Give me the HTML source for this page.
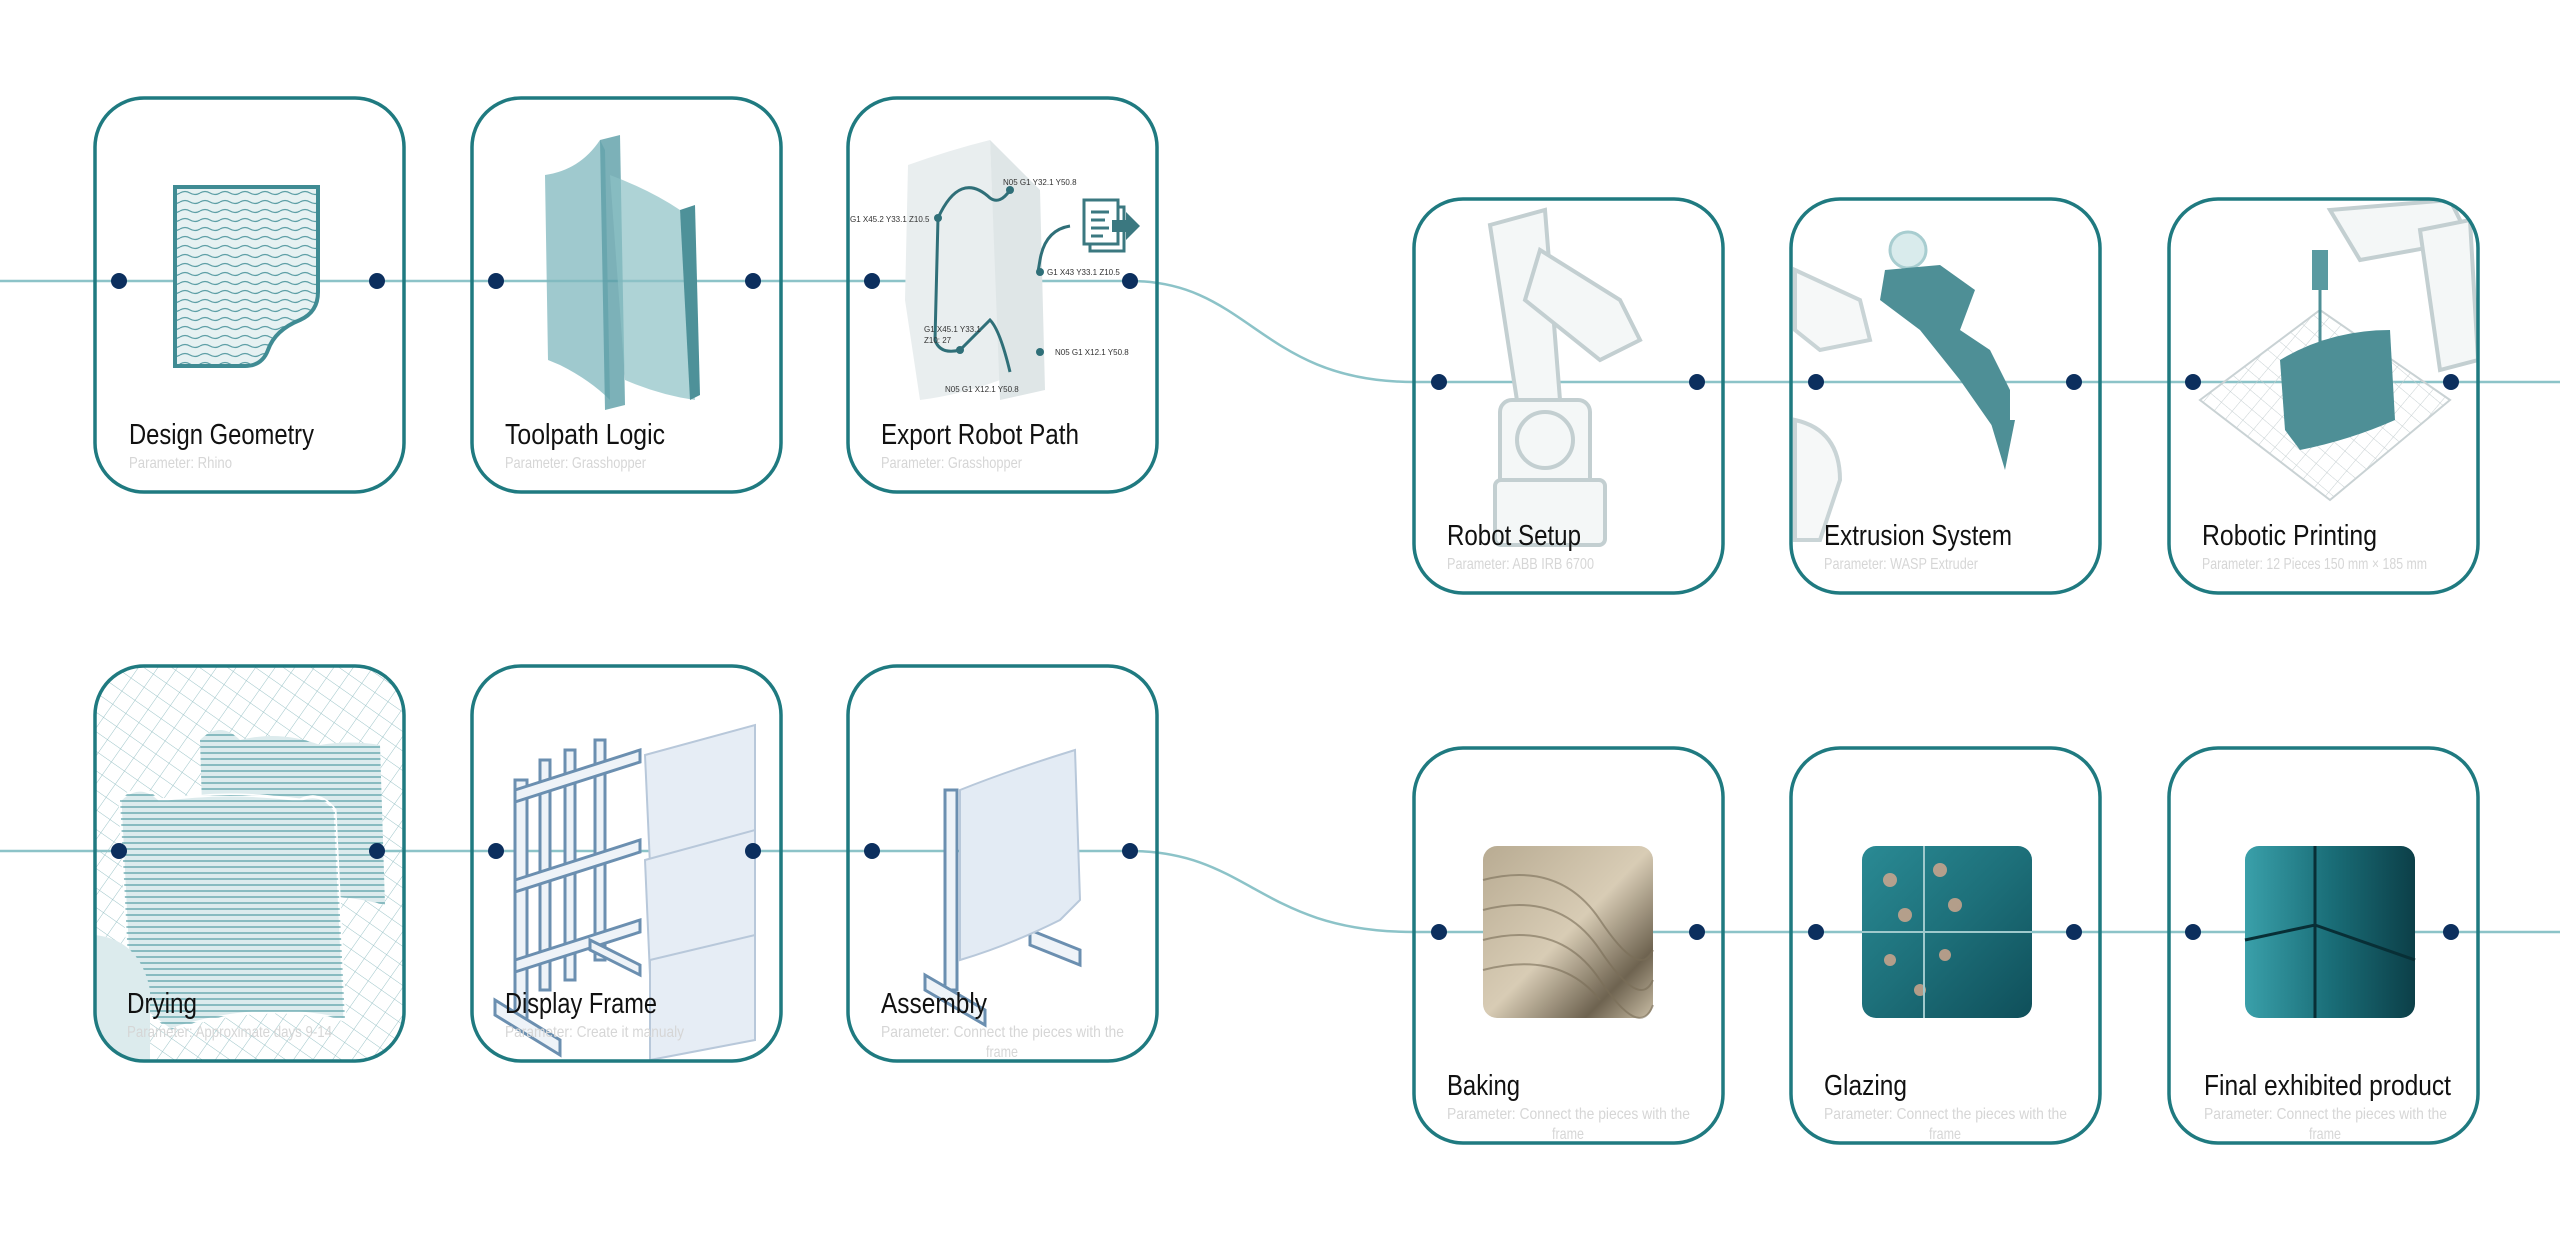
<!DOCTYPE html>
<html><head><meta charset="utf-8"><style>
html,body{margin:0;padding:0;background:#fff;width:2560px;height:1246px;overflow:hidden}
svg{display:block}
.t{font-family:"Liberation Sans",sans-serif;font-size:29px;fill:#111}
.s{font-family:"Liberation Sans",sans-serif;font-size:16px;fill:#d6d6d6}
</style></head><body>
<svg width="2560" height="1246" viewBox="0 0 2560 1246" xmlns="http://www.w3.org/2000/svg">
<defs>
<pattern id="stripe" width="20" height="9" patternUnits="userSpaceOnUse"><path d="M0 4 Q5 1 10 4 T20 4" stroke="#5e9fa6" stroke-width="1.3" fill="none"/></pattern>
<pattern id="hline" width="10" height="6" patternUnits="userSpaceOnUse"><path d="M0 3 H10" stroke="#4f9aa2" stroke-width="1.2"/></pattern>
<pattern id="grid" width="14" height="14" patternUnits="userSpaceOnUse" patternTransform="rotate(40)"><path d="M0 0H14M0 0V14" stroke="#c7d0d2" stroke-width="1"/></pattern>
<pattern id="grid2" width="16" height="16" patternUnits="userSpaceOnUse" patternTransform="rotate(35)"><path d="M0 0H16M0 0V16" stroke="#9cc4c8" stroke-width="1"/></pattern>
<linearGradient id="sand" x1="0" y1="0" x2="1" y2="1"><stop offset="0" stop-color="#b8ab92"/><stop offset=".5" stop-color="#d8ccb5"/><stop offset=".8" stop-color="#6e6350"/><stop offset="1" stop-color="#c9bda5"/></linearGradient>
<linearGradient id="glaze" x1="0" y1="0" x2="1" y2="1"><stop offset="0" stop-color="#2a8a94"/><stop offset=".5" stop-color="#1d6f79"/><stop offset="1" stop-color="#0f4f5a"/></linearGradient>
<linearGradient id="glaze2" x1="0" y1="0" x2="1" y2="0"><stop offset="0" stop-color="#3aa0aa"/><stop offset=".5" stop-color="#1a6e78"/><stop offset="1" stop-color="#0c3f48"/></linearGradient>
<clipPath id="c7"><rect x="95" y="666" width="309" height="395" rx="49"/></clipPath>
<clipPath id="c6"><rect x="2169" y="199" width="309" height="394" rx="49"/></clipPath>
</defs>

<g stroke="#8cc3c8" stroke-width="2.5" fill="none">
<path d="M0 281 H1130 C1250 281 1260 382 1414 382 H2560"/>
<path d="M0 851 H1130 C1250 851 1260 932 1414 932 H2560"/>
</g>

<path d="M175 187 H318 V292 Q318 312 300 320 Q275 330 268 350 Q262 366 245 366 H175 Z" fill="#e6f1f2"/>
<path d="M175 187 H318 V292 Q318 312 300 320 Q275 330 268 350 Q262 366 245 366 H175 Z" fill="url(#stripe)" stroke="#3f8b93" stroke-width="4"/>

<path d="M545 175 Q580 170 600 140 L605 150 L610 400 Q590 380 560 365 L548 360 Z" fill="#7fb7bd" opacity=".75"/>
<path d="M600 140 L620 135 L625 405 L605 410 Z" fill="#5b9ea6" opacity=".8"/>
<path d="M610 175 Q650 190 680 210 L690 350 L695 400 Q660 395 625 380 Z" fill="#8cc0c5" opacity=".7"/>
<path d="M680 210 L695 205 L700 395 L690 400 Z" fill="#4e9199"/>

<path d="M908 165 Q950 150 990 140 L1000 380 Q960 395 920 400 L905 300 Z" fill="#e9eeef"/>
<path d="M990 140 L1040 190 L1045 390 L1000 400 Z" fill="#dfe6e7"/>
<path d="M938 218 L935 340 Q940 355 960 350 Q980 330 990 320 Q1000 330 1010 372" stroke="#2f6f78" stroke-width="3" fill="none"/>
<path d="M938 218 Q960 170 990 198 Q1000 205 1010 190" stroke="#2f6f78" stroke-width="3" fill="none"/>
<path d="M1038 272 L1040 260 Q1045 230 1070 226" stroke="#2f6f78" stroke-width="3" fill="none"/>
<g fill="#2f6f78"><circle cx="938" cy="218" r="4"/><circle cx="1010" cy="190" r="4"/><circle cx="1040" cy="272" r="4"/><circle cx="960" cy="350" r="4"/><circle cx="1040" cy="352" r="4"/></g>
<g font-family="Liberation Sans,sans-serif" font-size="8" fill="#333">
<text x="850" y="222">G1 X45.2 Y33.1 Z10.5</text><text x="1003" y="185">N05 G1 Y32.1 Y50.8</text>
<text x="1047" y="275">G1 X43 Y33.1 Z10.5</text><text x="924" y="332">G1 X45.1 Y33.1</text><text x="924" y="343">Z10: 27</text>
<text x="1055" y="355">N05 G1 X12.1 Y50.8</text><text x="945" y="392">N05 G1 X12.1 Y50.8</text></g>
<rect x="1090" y="207" width="34" height="44" fill="#fff" stroke="#3b7880" stroke-width="3"/>
<rect x="1084" y="200" width="34" height="44" fill="#fff" stroke="#3b7880" stroke-width="3"/>
<path d="M1091 212h18M1091 220h14M1091 228h18M1091 236h12" stroke="#3b7880" stroke-width="3"/>
<path d="M1112 220h14v-8l14 14-14 14v-8h-14z" fill="#3b7880"/>

<g stroke="#c3cfd1" stroke-width="4" fill="#f4f7f7">
<path d="M1490 225 L1545 210 L1560 400 L1520 420 Z"/>
<path d="M1540 250 L1620 300 L1640 340 L1600 360 L1525 300 Z"/>
<rect x="1500" y="400" width="90" height="90" rx="12"/>
<circle cx="1545" cy="440" r="28"/>
<rect x="1495" y="480" width="110" height="65" rx="6"/>
</g>
<g stroke="#c9d4d6" stroke-width="4" fill="#f6f8f8"><path d="M1795 270 L1860 300 L1870 340 L1820 350 L1795 330 Z"/><path d="M1795 420 Q1840 430 1840 480 L1820 540 L1795 540 Z"/></g>
<circle cx="1908" cy="250" r="18" fill="#d9ebec" stroke="#a8cdd0" stroke-width="3"/>
<path d="M1885 270 L1940 265 L1975 290 L1960 330 L1990 350 L2010 390 L2010 420 L1995 430 L1960 380 L1920 330 L1880 300 Z" fill="#4e8f96"/>
<path d="M1990 420 L2015 420 L2005 470 Z" fill="#4e8f96"/>
<g clip-path="url(#c6)">
<path d="M2200 400 L2320 310 L2450 400 L2330 500 Z" fill="url(#grid)" stroke="#c9d2d4" stroke-width="2"/>
<g stroke="#c3cfd1" stroke-width="4" fill="#f4f7f7"><path d="M2330 210 L2450 200 L2470 240 L2360 260 Z"/><path d="M2420 230 L2470 220 L2478 360 L2440 370 Z"/></g>
<rect x="2312" y="250" width="16" height="40" fill="#5a9aa1"/>
<path d="M2320 290 V345" stroke="#4e8f96" stroke-width="3"/>
<path d="M2280 360 Q2330 330 2390 330 L2395 420 Q2350 440 2300 450 L2285 430 Z" fill="#4e8f96"/>
</g>

<g clip-path="url(#c7)">
<rect x="95" y="666" width="309" height="395" fill="url(#grid2)"/>
<path d="M200 740 Q220 720 240 740 Q280 730 320 745 Q350 740 380 745 L385 905 Q330 890 260 900 L205 905 Z" fill="#dcebed"/>
<path d="M200 740 Q220 720 240 740 Q280 730 320 745 Q350 740 380 745 L385 905 Q330 890 260 900 L205 905 Z" fill="url(#hline)"/>
<path d="M120 800 Q140 780 160 800 Q230 790 300 800 Q320 790 335 810 L345 1020 Q260 1000 170 1030 L130 1000 Z" fill="#dcebed" stroke="#fff" stroke-width="3"/>
<path d="M120 800 Q140 780 160 800 Q230 790 300 800 Q320 790 335 810 L345 1020 Q260 1000 170 1030 L130 1000 Z" fill="url(#hline)"/>
<path d="M95 935 Q140 940 150 990 L150 1061 H95 Z" fill="#dcebed"/>
</g>
<g stroke="#6b8fb0" stroke-width="3" fill="#eef3f8">
<rect x="515" y="780" width="12" height="240"/><rect x="540" y="760" width="10" height="230"/><rect x="565" y="750" width="10" height="230"/><rect x="595" y="740" width="10" height="220"/>
<path d="M515 790 L640 750 L640 762 L515 802 Z"/><path d="M515 880 L640 840 L640 852 L515 892 Z"/><path d="M515 960 L640 920 L640 932 L515 972 Z"/>
<path d="M495 1000 L560 1040 L560 1055 L495 1015 Z"/><path d="M590 940 L640 965 L640 975 L590 950 Z"/>
</g>
<g fill="#e6edf5" stroke="#b8c8da" stroke-width="2"><path d="M645 755 L755 725 L755 840 L650 865 Z"/><path d="M645 860 L755 830 L755 945 L650 975 Z"/><path d="M650 960 L755 935 L755 1040 L650 1060 Z"/></g>
<g stroke="#6b8fb0" stroke-width="3" fill="#eef3f8"><rect x="945" y="790" width="12" height="200"/><path d="M925 975 L985 1010 L985 1025 L925 990 Z"/><path d="M1030 930 L1080 950 L1080 965 L1030 945 Z"/></g>
<g fill="#e3ebf4" stroke="#b8c8da" stroke-width="2"><path d="M960 790 Q1010 770 1075 750 L1080 900 L1060 920 Q1010 945 960 960 Z"/></g>
<rect x="1483" y="846" width="170" height="172" rx="14" fill="url(#sand)"/>
<g stroke="#7a6e58" stroke-width="2" fill="none" opacity=".6"><path d="M1483 880 Q1560 860 1600 920 T1653 950"/><path d="M1483 910 Q1560 890 1600 950 T1653 980"/><path d="M1483 940 Q1560 920 1600 980 T1653 1005"/><path d="M1483 970 Q1560 950 1600 1000"/></g>
<rect x="1862" y="846" width="170" height="172" rx="14" fill="url(#glaze)"/>
<g fill="#d9a98e" opacity=".8"><circle cx="1890" cy="880" r="7"/><circle cx="1940" cy="870" r="7"/><circle cx="1905" cy="915" r="7"/><circle cx="1955" cy="905" r="7"/><circle cx="1890" cy="960" r="6"/><circle cx="1945" cy="955" r="6"/><circle cx="1920" cy="990" r="6"/></g>
<path d="M1924 846 V1018 M1862 932 H2032" stroke="#9fc9cc" stroke-width="2"/>
<rect x="2245" y="846" width="170" height="172" rx="14" fill="url(#glaze2)"/>
<path d="M2315 846 V1018 M2245 940 L2315 925 L2415 960" stroke="#082f36" stroke-width="3" fill="none"/>

<g fill="none" stroke="#1f7a80" stroke-width="3.5">
<rect x="95" y="98" width="309" height="394" rx="49"/>
<rect x="472" y="98" width="309" height="394" rx="49"/>
<rect x="848" y="98" width="309" height="394" rx="49"/>
<rect x="1414" y="199" width="309" height="394" rx="49"/>
<rect x="1791" y="199" width="309" height="394" rx="49"/>
<rect x="2169" y="199" width="309" height="394" rx="49"/>
<rect x="95" y="666" width="309" height="395" rx="49"/>
<rect x="472" y="666" width="309" height="395" rx="49"/>
<rect x="848" y="666" width="309" height="395" rx="49"/>
<rect x="1414" y="748" width="309" height="395" rx="49"/>
<rect x="1791" y="748" width="309" height="395" rx="49"/>
<rect x="2169" y="748" width="309" height="395" rx="49"/>
</g>

<g fill="#0c2f5e">
<circle cx="119" cy="281" r="8"/><circle cx="377" cy="281" r="8"/><circle cx="496" cy="281" r="8"/><circle cx="753" cy="281" r="8"/><circle cx="872" cy="281" r="8"/><circle cx="1130" cy="281" r="8"/>
<circle cx="1439" cy="382" r="8"/><circle cx="1697" cy="382" r="8"/><circle cx="1816" cy="382" r="8"/><circle cx="2074" cy="382" r="8"/><circle cx="2193" cy="382" r="8"/><circle cx="2451" cy="382" r="8"/>
<circle cx="119" cy="851" r="8"/><circle cx="377" cy="851" r="8"/><circle cx="496" cy="851" r="8"/><circle cx="753" cy="851" r="8"/><circle cx="872" cy="851" r="8"/><circle cx="1130" cy="851" r="8"/>
<circle cx="1439" cy="932" r="8"/><circle cx="1697" cy="932" r="8"/><circle cx="1816" cy="932" r="8"/><circle cx="2074" cy="932" r="8"/><circle cx="2193" cy="932" r="8"/><circle cx="2451" cy="932" r="8"/>
</g>

<g lengthAdjust="spacingAndGlyphs">
<text class="t" x="129" y="444" textLength="185" lengthAdjust="spacingAndGlyphs">Design Geometry</text><text class="s" x="129" y="468" textLength="103" lengthAdjust="spacingAndGlyphs">Parameter: Rhino</text>
<text class="t" x="505" y="444" textLength="160" lengthAdjust="spacingAndGlyphs">Toolpath Logic</text><text class="s" x="505" y="468" textLength="141" lengthAdjust="spacingAndGlyphs">Parameter: Grasshopper</text>
<text class="t" x="881" y="444" textLength="198" lengthAdjust="spacingAndGlyphs">Export Robot Path</text><text class="s" x="881" y="468" textLength="141" lengthAdjust="spacingAndGlyphs">Parameter: Grasshopper</text>
<text class="t" x="1447" y="545" textLength="134" lengthAdjust="spacingAndGlyphs">Robot Setup</text><text class="s" x="1447" y="569" textLength="147" lengthAdjust="spacingAndGlyphs">Parameter: ABB IRB 6700</text>
<text class="t" x="1824" y="545" textLength="188" lengthAdjust="spacingAndGlyphs">Extrusion System</text><text class="s" x="1824" y="569" textLength="154" lengthAdjust="spacingAndGlyphs">Parameter: WASP Extruder</text>
<text class="t" x="2202" y="545" textLength="175" lengthAdjust="spacingAndGlyphs">Robotic Printing</text><text class="s" x="2202" y="569" textLength="225" lengthAdjust="spacingAndGlyphs">Parameter: 12 Pieces 150 mm × 185 mm</text>
<text class="t" x="127" y="1013" textLength="70" lengthAdjust="spacingAndGlyphs">Drying</text><text class="s" x="127" y="1037" textLength="205" lengthAdjust="spacingAndGlyphs">Parameter: Approximate days 9-14</text>
<text class="t" x="505" y="1013" textLength="152" lengthAdjust="spacingAndGlyphs">Display Frame</text><text class="s" x="505" y="1037" textLength="179" lengthAdjust="spacingAndGlyphs">Parameter: Create it manualy</text>
<text class="t" x="881" y="1013" textLength="106" lengthAdjust="spacingAndGlyphs">Assembly</text><text class="s" x="881" y="1037" textLength="243" lengthAdjust="spacingAndGlyphs">Parameter: Connect the pieces with the</text><text class="s" x="986" y="1057" textLength="32" lengthAdjust="spacingAndGlyphs">frame</text>
<text class="t" x="1447" y="1095" textLength="73" lengthAdjust="spacingAndGlyphs">Baking</text><text class="s" x="1447" y="1119" textLength="243" lengthAdjust="spacingAndGlyphs">Parameter: Connect the pieces with the</text><text class="s" x="1552" y="1139" textLength="32" lengthAdjust="spacingAndGlyphs">frame</text>
<text class="t" x="1824" y="1095" textLength="83" lengthAdjust="spacingAndGlyphs">Glazing</text><text class="s" x="1824" y="1119" textLength="243" lengthAdjust="spacingAndGlyphs">Parameter: Connect the pieces with the</text><text class="s" x="1929" y="1139" textLength="32" lengthAdjust="spacingAndGlyphs">frame</text>
<text class="t" x="2204" y="1095" textLength="247" lengthAdjust="spacingAndGlyphs">Final exhibited product</text><text class="s" x="2204" y="1119" textLength="243" lengthAdjust="spacingAndGlyphs">Parameter: Connect the pieces with the</text><text class="s" x="2309" y="1139" textLength="32" lengthAdjust="spacingAndGlyphs">frame</text>
</g>
</svg>
</body></html>
